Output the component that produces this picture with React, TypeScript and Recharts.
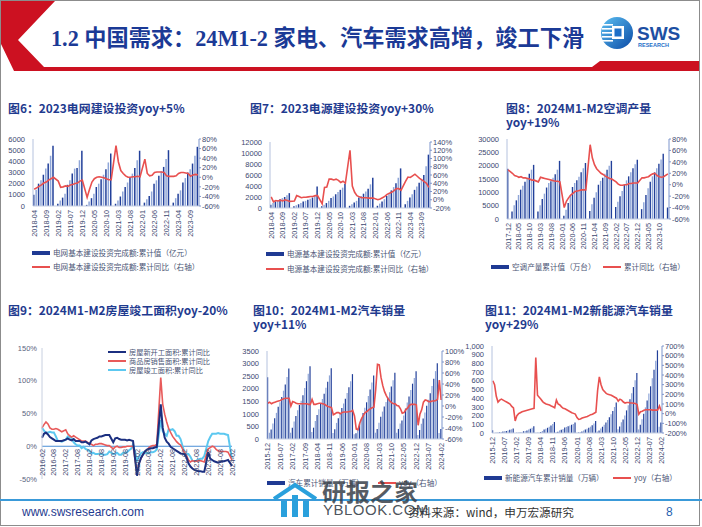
import React from 'react';
import { ComposedChart, LineChart, Bar, Line, XAxis, YAxis, Cell, ReferenceLine } from 'recharts';

const months = (y0: number, m0: number, y1: number, m1: number) => {
  const out: string[] = [];
  let y = y0, m = m0;
  while (y < y1 || (y === y1 && m <= m1)) {
    out.push(`${y}-${String(m).padStart(2, '0')}`);
    m++; if (m > 12) { m = 1; y++; }
  }
  return out;
};

// ---------- 图6 电网 ----------
const GRID_MONTHS = months(2018, 4, 2023, 12);
const GRID_VAL = [1000,1450,2000,2300,2800,3350,3800,4500,5400,
  null,200,500,750,1100,1900,2300,2900,3350,3400,4100,4950,
  null,100,400,700,1100,1700,2000,2400,2800,3300,3900,4700,
  null,200,500,850,1300,1700,2100,2500,2900,3400,4100,4950,
  null,300,600,900,1300,2000,2300,2700,3100,3500,4200,5000,
  null,300,700,1100,1400,2100,2500,3000,3300,3800,4500,5300];
const GRID_YOY = [-25,-22,-19,-16,-12,-10,-6,-3,0,
  null,-8,-21,-20,-18,-19,-16,-15,-13,-12,-8,-6,
  null,-42,-25,-10,-3,0,1,0,-1,-3,-5,-5,
  null,66,32,14,8,3,0,0,1,1,2,1,
  null,38,8,3,4,10,11,11,11,10,3,2,
  null,2,3,8,10,10,9,8,2,5,6,5];
const TICKS_18 = ['2018-04','2018-09','2019-02','2019-07','2019-12','2020-05','2020-10','2021-03','2021-08','2022-01','2022-06','2022-11','2023-04','2023-09'];
const GRID_LT = [0,1000,2000,3000,4000,5000,6000];
const GRID_RT = [-60,-40,-20,0,20,40,60,80];

// ---------- 图7 电源 ----------
const POWER_VAL = [600,900,1200,1400,1600,1800,2000,2300,2700,
  null,300,500,700,900,1200,1300,1500,1700,1900,2200,3900,
  null,300,600,900,1300,1800,2100,2500,2900,3300,3700,4400,
  null,400,700,1000,1300,1900,2200,2600,3000,3500,4300,5500,
  null,400,800,1200,1600,2200,2700,3200,3800,4500,5500,7200,
  null,700,1300,1900,2500,3300,3900,4600,5100,6000,7600,9700];
const POWER_YOY = [7,-5,-2,-3,-1,-3,0,-2,-4,
  null,-3,10,8,5,6,6,7,8,8,10,10,
  null,-10,30,31,50,50,48,50,47,42,45,40,
  null,120,33,18,10,7,5,5,5,4,4,4,
  null,0,2,5,8,13,16,18,22,27,27,23,
  null,45,55,54,58,62,57,52,48,44,40,30];
const POWER_LT = [0,2000,4000,6000,8000,10000,12000];
const POWER_RT = [-20,0,20,40,60,80,100,120,140];

// ---------- 图8 空调 ----------
const AC_MONTHS = months(2017, 12, 2024, 2);
const AC_VAL = [18800,
  null,2800,5200,7000,9000,11000,12500,14000,15500,17000,18500,20300,
  null,2800,5200,7500,9500,11800,13500,14200,15500,16800,18500,21800,
  null,1200,3500,6000,9000,12000,13500,14500,15800,17500,19000,21000,
  null,3000,5500,8000,10000,12800,14300,15500,17000,18500,20000,21800,
  null,4500,6500,8500,10500,12800,14500,16000,17500,19000,20500,22200,
  null,3700,6300,9000,11500,14000,16000,17500,19000,20700,22300,24500,
  null,4300];
const AC_YOY = [26,
  null,20,16,15,13,14,12,12,11,10,8,8,
  null,5,13,12,11,10,9,8,7,6,6,5,
  null,-40,-29,-23,-18,-15,-12,-11,-10,-9,-9,-9,
  null,70,47,35,28,24,20,18,15,13,11,10,
  null,5,1,-1,-1,0,0,2,2,3,3,3,
  null,12,12,13,14,17,19,20,16,14,13,14,
  null,19];
const TICKS_AC = ['2017-12','2018-05','2018-10','2019-03','2019-08','2020-01','2020-06','2020-11','2021-04','2021-09','2022-02','2022-07','2022-12','2023-05','2023-10'];
const AC_LT = [0,5000,10000,15000,20000,25000,30000];
const AC_RT = [-60,-40,-20,0,20,40,60,80];

// ---------- 图9 房屋 ----------
const HS_MONTHS = months(2016, 2, 2024, 2);
const HS_NEW = [13,19,21,18,14,12,10,8,8,8,8,
  null,10,12,10,9,11,8,8,8,6,6,7,
  null,3,9,11,12,13,15,15,16,17,17,17,
  null,6,12,13,11,10,10,10,9,10,9,8,
  null,-45,-27,-18,-13,-8,-5,-4,-3,-3,-2,-1,
  null,64,28,13,7,4,-1,-3,-5,-7,-9,-11,
  null,-12,-17,-26,-31,-34,-36,-37,-38,-38,-39,-39,
  null,-9,-19,-21,-23,-24,-25,-24,-23,-23,-22,-21,
  null,-30];
const HS_SALE = [28,33,37,34,28,26,26,27,26,24,22,
  null,25,19,16,14,16,14,12,10,8,8,8,
  null,4,3,1,3,3,4,4,3,2,1,1,
  null,-4,-1,0,-2,-2,-1,-1,0,0,0,0,
  null,-40,-26,-19,-12,-8,-6,-2,0,1,1,3,
  null,105,64,49,37,27,21,15,11,7,4,2,
  null,-10,-14,-21,-24,-22,-23,-23,-22,-22,-23,-24,
  null,-4,-2,0,-1,-5,-7,-8,-8,-8,-8,-9,
  null,-21];
const HS_DONE = [28,24,20,21,22,21,21,15,8,8,7,
  null,10,15,14,12,6,3,1,1,-3,-1,-4,
  null,-7,-11,-10,-12,-12,-11,-12,-13,-13,-12,-8,
  null,-12,-11,-10,-13,-13,-10,-10,-9,-6,-4,3,
  null,-22,-16,-11,-9,-11,-10,-11,-9,-9,-8,-5,
  null,40,23,19,16,26,25,26,23,16,16,11,
  null,-10,-12,-12,-16,-22,-23,-22,-20,-19,-19,-15,
  null,8,14,19,19,19,20,19,19,19,18,17,
  null,-20];
const TICKS_HS = ['2016-02','2016-08','2017-02','2017-08','2018-02','2018-08','2019-02','2019-08','2020-02','2020-08','2021-02','2021-08','2022-02','2022-08','2023-02','2023-08','2024-02'];
const HS_LT = [-50,0,50,100,150];

// ---------- 图10 汽车 / 图11 新能源 ----------
const CAR_MONTHS = months(2015, 12, 2024, 2);
const CAR_VAL = [2460,
  250,380,620,830,1040,1280,1460,1670,1920,2170,2470,2800,
  250,450,700,910,1140,1350,1520,1740,2030,2300,2600,2890,
  280,450,720,950,1180,1410,1590,1800,2040,2280,2530,2810,
  240,390,640,830,1020,1230,1410,1600,1830,2060,2300,2580,
  190,230,370,580,800,1030,1240,1460,1710,1970,2250,2530,
  250,400,650,880,1090,1290,1470,1650,1860,2090,2340,2630,
  250,400,620,740,930,1210,1450,1690,1950,2200,2430,2690,
  160,360,610,820,1050,1320,1560,1820,2110,2400,2700,3010,
  240,400];
const CAR_YOY = [5,
  7,4,6,7,8,9,10,12,13,14,14,14,
  0,8,7,5,4,4,4,4,4,4,3,3,
  12,3,3,4,5,5,4,3,1,-1,-2,-3,
  -16,-14,-12,-12,-14,-12,-11,-11,-11,-10,-10,-8,
  -18,-42,-43,-31,-23,-17,-12,-10,-7,-5,-3,-2,
  30,76,75,52,37,26,19,13,9,6,4,4,
  1,0,-5,-13,-12,-7,-4,1,3,3,3,2,
  -35,-15,-7,7,11,10,8,8,9,9,10,12,
  47,11];
const NEV_VAL = [33,
  1,2,5,8,12,17,20,24,30,37,43,51,
  1,2,5,7,10,20,24,30,40,50,60,78,
  2,4,7,12,22,41,50,60,72,86,103,126,
  10,15,30,37,47,62,70,78,87,95,104,121,
  4,6,11,18,28,39,48,60,73,89,110,137,
  18,29,51,72,94,121,148,180,215,254,299,352,
  43,76,125,155,200,260,320,387,456,528,607,689,
  41,94,159,222,294,375,453,537,628,728,830,950,
  73,121];
const NEV_YOY = [340,
  300,180,120,140,150,140,130,120,110,100,75,60,
  -75,-20,0,10,20,25,30,35,40,45,50,55,
  580,190,170,150,125,110,100,95,90,80,72,62,
  140,100,90,70,55,50,40,30,20,10,3,-4,
  -40,-60,-55,-45,-40,-35,-30,-20,-10,-5,5,15,
  240,380,300,250,230,210,200,195,190,180,170,160,
  130,150,140,120,110,115,115,110,110,108,105,95,
  -5,20,25,35,40,40,40,40,37,37,37,38,
  79,29];
const TICKS_CAR = ['2015-12','2016-07','2017-02','2017-09','2018-04','2018-11','2019-06','2020-01','2020-08','2021-03','2021-10','2022-05','2022-12','2023-07','2024-02'];
const CAR_LT = [0,500,1000,1500,2000,2500,3000,3500];
const CAR_RT = [-60,-40,-20,0,20,40,60,80,100];
const NEV_LT = [0,100,200,300,400,500,600,700,800,900,1000];
const NEV_RT = [-200,-100,0,100,200,300,400,500,600,700];

// ---------- styles ----------
const NAVY = '#1f3b8f';
const RED = '#e8504f';
const TICK_C = '#3c4870';
const LEG_C = '#4b5575';
const BAR_D = '#22409a';
const BAR_L = '#8fa6d8';
const TICK = { fontSize: 7.5, fill: TICK_C, fontFamily: '"Liberation Sans", Arial, sans-serif' };
const pct = (v: number) => `${v}%`;
const thou = (v: number) => v.toLocaleString('en-US');
const CJK = '"Noto Sans CJK SC", "Noto Sans", sans-serif';

const build = (ms: string[], v: (number | null)[], r: (number | null)[]) =>
  ms.map((m, i) => ({ m, v: v[i], r: r[i] }));

const XTick = (props: any) => {
  const { x, y, payload, fixedY } = props;
  const yy = fixedY !== undefined ? fixedY : y;
  return (
    <text x={x} y={yy} transform={`rotate(-90 ${x} ${yy})`} textAnchor="end" dominantBaseline="central"
      fontSize={7.3} fill={TICK_C} fontFamily='"Liberation Sans", Arial, sans-serif'>{payload.value}</text>
  );
};

type BLProps = {
  data: any[]; pos: [number, number, number, number]; lw: number; rw: number; mt: number; xh: number;
  ld: [number, number]; lt: number[]; rd: [number, number]; rt: number[]; lfmt?: (v: number) => string;
  xt: string[]; barSize: number;
};

const BarLine = ({ data, pos, lw, rw, mt, xh, ld, lt, rd, rt, lfmt, xt, barSize }: BLProps) => (
  <div style={{ position: 'absolute', left: pos[0], top: pos[1] }}>
    <ComposedChart width={pos[2]} height={pos[3]} data={data} margin={{ top: mt, right: 0, bottom: 0, left: 0 }}>
      <XAxis dataKey="m" ticks={xt} interval={0} height={xh} tick={<XTick />} tickSize={2} tickMargin={2}
        axisLine={{ stroke: '#c5cee3' }} tickLine={false} />
      <YAxis yAxisId="l" width={lw} domain={ld} ticks={lt} tickFormatter={lfmt} interval={0} tick={TICK}
        axisLine={{ stroke: '#b5c2de' }} tickLine={false} tickSize={5} tickMargin={3} />
      <YAxis yAxisId="r" orientation="right" width={rw} domain={rd} ticks={rt} tickFormatter={pct} interval={0}
        tick={TICK} axisLine={{ stroke: '#7d95cc' }} tickLine={{ stroke: '#7d95cc' }} tickSize={2} tickMargin={1} />
      <Bar yAxisId="l" dataKey="v" barSize={barSize} isAnimationActive={false}>
        {data.map((_, i) => <Cell key={i} fill={i % 2 ? BAR_L : BAR_D} />)}
      </Bar>
      <Line yAxisId="r" dataKey="r" stroke={RED} strokeWidth={1.6} dot={false} connectNulls isAnimationActive={false} />
    </ComposedChart>
  </div>
);

const Title = ({ x, y, lines, fs = 11.9 }: { x: number; y: number; lines: string[]; fs?: number }) => (
  <div style={{ position: 'absolute', left: x, top: y, color: NAVY, fontWeight: 700, fontSize: fs,
    lineHeight: '14px', fontFamily: CJK, whiteSpace: 'nowrap' }}>
    {lines.map((l, i) => <div key={i}>{l}</div>)}
  </div>
);

const LegItem = ({ x, y, label, kind, color, fs = 7.6, h = 12 }: { x: number; y: number; label: string; kind: 'bar' | 'line'; color?: string; fs?: number; h?: number }) => (
  <div style={{ position: 'absolute', left: x, top: y - h / 2, height: h, lineHeight: `${h}px`, display: 'flex', alignItems: 'center',
    fontSize: fs, color: LEG_C, fontFamily: CJK, whiteSpace: 'nowrap' }}>
    <span style={{ display: 'inline-block', width: 18, height: kind === 'bar' ? 3.5 : 2,
      background: color || (kind === 'bar' ? '#1f3a93' : RED), marginRight: 3 }} />
    <span>{label}</span>
  </div>
);

const HS_DATA = HS_MONTHS.map((m, i) => ({ m, a: HS_NEW[i], b: HS_SALE[i], c: HS_DONE[i] }));

export default function App() {
  return (
    <div style={{ position: 'absolute', left: 0, top: 0, width: 702, height: 527, background: '#fff', overflow: 'hidden', fontFamily: CJK }}>
      {/* border */}
      <div style={{ position: 'absolute', left: 0, top: 0, width: 698, height: 524, border: '1px solid #8c8c8c' }} />
      {/* header shape */}
      <svg style={{ position: 'absolute', left: 0, top: 0 }} width={702} height={80}>
        <polygon points="1,1 55,1 18,40 44,67 592,67 600,61 699,61 699,71 14,71 1,44" fill="#cc1121" />
      </svg>
      <div style={{ position: 'absolute', left: 51, top: 25, fontSize: 22.2, lineHeight: '27px', fontWeight: 700, color: '#1b3a96',
        fontFamily: '"Liberation Serif", "Noto Sans CJK SC", serif', whiteSpace: 'nowrap' }}>
        1.2 中国需求：24M1-2 家电、汽车需求高增，竣工下滑
      </div>
      {/* logo */}
      <svg style={{ position: 'absolute', left: 598, top: 14 }} width={100} height={40}>
        <defs>
          <linearGradient id="lg" x1="0" y1="0" x2="1" y2="1">
            <stop offset="0" stopColor="#5cc0f2" />
            <stop offset="1" stopColor="#0b4aa6" />
          </linearGradient>
        </defs>
        <circle cx={19} cy={19} r={16} fill="url(#lg)" />
        {[10, 14, 18, 22, 26].map((yy) => <rect key={yy} x={4} y={yy} width={11} height={1.6} fill="#fff" />)}
        <rect x={14} y={12} width={12} height={13} fill="#fff" />
        <rect x={16.5} y={14.5} width={7} height={8} fill="#1e6fc8" />
        <text x={39} y={26} fontSize={19} fontWeight={700} fill="#1d4fa3" fontFamily='"Liberation Sans", Arial, sans-serif'>SWS</text>
        <text x={40} y={33} fontSize={5.5} fontWeight={700} fill="#1d6fc8" fontFamily='"Liberation Sans", Arial, sans-serif'>RESEARCH</text>
      </svg>

      {/* 图6 */}
      <Title x={8} y={101} lines={['图6：2023电网建设投资yoy+5%']} />
      <BarLine data={build(GRID_MONTHS, GRID_VAL, GRID_YOY)} pos={[0, 130, 230, 110]} lw={33} rw={31} mt={9} xh={34}
        ld={[0, 6000]} lt={GRID_LT} rd={[-60, 80]} rt={GRID_RT} xt={TICKS_18} barSize={1.5} />
      <LegItem x={32} y={253} kind="bar" label="电网基本建设投资完成额:累计值（亿元）" />
      <LegItem x={32} y={267} kind="line" label="电网基本建设投资完成额:累计同比（右轴）" />

      {/* 图7 */}
      <Title x={250} y={101} lines={['图7：2023电源建设投资yoy+30%']} />
      <BarLine data={build(GRID_MONTHS, POWER_VAL, POWER_YOY)} pos={[235, 132, 225, 110]} lw={35} rw={30} mt={10} xh={34}
        ld={[0, 12000]} lt={POWER_LT} rd={[-20, 140]} rt={POWER_RT} xt={TICKS_18} barSize={1.5} />
      <LegItem x={266} y={254} kind="bar" label="电源基本建设投资完成额:累计值（亿元）" />
      <LegItem x={266} y={269} kind="line" label="电源基本建设投资完成额:累计同比（右轴）" />

      {/* 图8 */}
      <Title x={506} y={101} lines={['图8：2024M1-M2空调产量', 'yoy+19%']} />
      <BarLine data={build(AC_MONTHS, AC_VAL, AC_YOY)} pos={[470, 130, 230, 125]} lw={37} rw={31} mt={9} xh={36}
        ld={[0, 30000]} lt={AC_LT} rd={[-60, 80]} rt={AC_RT} xt={TICKS_AC} barSize={1.4} />
      <LegItem x={491} y={267} kind="bar" label="空调产量累计值（万台）" />
      <LegItem x={603} y={267} kind="line" label="累计同比（右轴）" />

      {/* 图9 */}
      <Title x={8} y={303} lines={['图9：2024M1-M2房屋竣工面积yoy-20%']} />
      <div style={{ position: 'absolute', left: 0, top: 340 }}>
        <LineChart width={236} height={145} data={HS_DATA} margin={{ top: 8, right: 4, bottom: 0, left: 0 }}>
          <XAxis dataKey="m" ticks={TICKS_HS} interval={0} height={6} axisLine={false} tickLine={false}
            tick={(p: any) => <XTick {...p} fixedY={109} />} />
          <YAxis width={42} domain={[-50, 150]} ticks={HS_LT} tickFormatter={pct} interval={0}
            tick={{ ...TICK, fill: '#5a6480' }} axisLine={{ stroke: '#c8d0e0' }} tickLine={false} tickSize={2} tickMargin={3} />
          <ReferenceLine y={0} stroke="#4a8fd6" strokeWidth={1} />
          <Line dataKey="c" stroke="#5cc8f0" strokeWidth={2} dot={false} connectNulls isAnimationActive={false} />
          <Line dataKey="b" stroke="#e85a5a" strokeWidth={1.6} dot={false} connectNulls isAnimationActive={false} />
          <Line dataKey="a" stroke="#1b2f80" strokeWidth={2} dot={false} connectNulls isAnimationActive={false} />
        </LineChart>
      </div>
      <LegItem x={108} y={352} kind="line" color="#1b2f80" label="房屋新开工面积:累计同比" fs={7.2} h={8} />
      <LegItem x={108} y={361} kind="line" color="#e85a5a" label="商品房销售面积:累计同比" fs={7.2} h={8} />
      <LegItem x={108} y={370} kind="line" color="#5cc8f0" label="房屋竣工面积:累计同比" fs={7.2} h={8} />

      {/* 图10 */}
      <Title x={253} y={303} lines={['图10：2024M1-M2汽车销量', 'yoy+11%']} />
      <BarLine data={build(CAR_MONTHS, CAR_VAL, CAR_YOY)} pos={[235, 342, 232, 132]} lw={32} rw={25} mt={9} xh={35}
        ld={[0, 3500]} lt={CAR_LT} rd={[-60, 100]} rt={CAR_RT} xt={TICKS_CAR} barSize={1.2} />
      <LegItem x={267} y={483} kind="bar" label="汽车累计销量（万辆）" />
      <LegItem x={378} y={483} kind="line" label="yoy（右轴）" />

      {/* 图11 */}
      <Title x={485} y={303} lines={['图11：2024M1-M2新能源汽车销量', 'yoy+29%']} />
      <BarLine data={build(CAR_MONTHS, NEV_VAL, NEV_YOY)} pos={[462, 337, 230, 130]} lw={30} rw={30} mt={9} xh={34}
        ld={[0, 1000]} lt={NEV_LT} lfmt={thou} rd={[-200, 700]} rt={NEV_RT} xt={TICKS_CAR} barSize={1.2} />
      <LegItem x={484} y={478} kind="bar" label="新能源汽车累计销量（万辆）" />
      <LegItem x={613} y={478} kind="line" label="yoy（右轴）" />

      {/* footer */}
      <div style={{ position: 'absolute', left: 0, top: 499, width: 702, height: 1.5, background: '#3a9ad9' }} />
      <div style={{ position: 'absolute', left: 22, top: 504, fontSize: 12, lineHeight: '16px', color: NAVY,
        fontFamily: '"Liberation Sans", Arial, sans-serif' }}>www.swsresearch.com</div>
      <div style={{ position: 'absolute', left: 408, top: 504, fontSize: 11.6, lineHeight: '16px', color: '#333',
        fontFamily: CJK, whiteSpace: 'nowrap' }}>资料来源：wind，申万宏源研究</div>
      <div style={{ position: 'absolute', left: 666, top: 504, fontSize: 12, lineHeight: '16px', color: '#1f5fb0',
        fontFamily: '"Liberation Sans", Arial, sans-serif' }}>8</div>

      {/* watermark */}
      <svg style={{ position: 'absolute', left: 272, top: 482 }} width={46} height={36}>
        <polyline points="2,17 23,3 44,17" fill="none" stroke="#2aa0dc" strokeWidth={4} />
        <rect x={9} y={19} width={6} height={16} fill="#2aa0dc" />
        <rect x={20} y={13} width={6} height={22} fill="#2aa0dc" />
        <rect x={31} y={19} width={6} height={16} fill="#2aa0dc" />
      </svg>
      <div style={{ position: 'absolute', left: 322, top: 478, fontSize: 24, lineHeight: '26px', fontWeight: 700,
        color: 'rgba(55,62,72,0.85)', fontFamily: CJK, whiteSpace: 'nowrap' }}>研报之家</div>
      <div style={{ position: 'absolute', left: 323, top: 501, fontSize: 15, lineHeight: '17px',
        color: 'rgba(55,62,72,0.9)', fontFamily: '"Liberation Sans", Arial, sans-serif', letterSpacing: 0.5 }}>YBLOOK.COM</div>
    </div>
  );
}
